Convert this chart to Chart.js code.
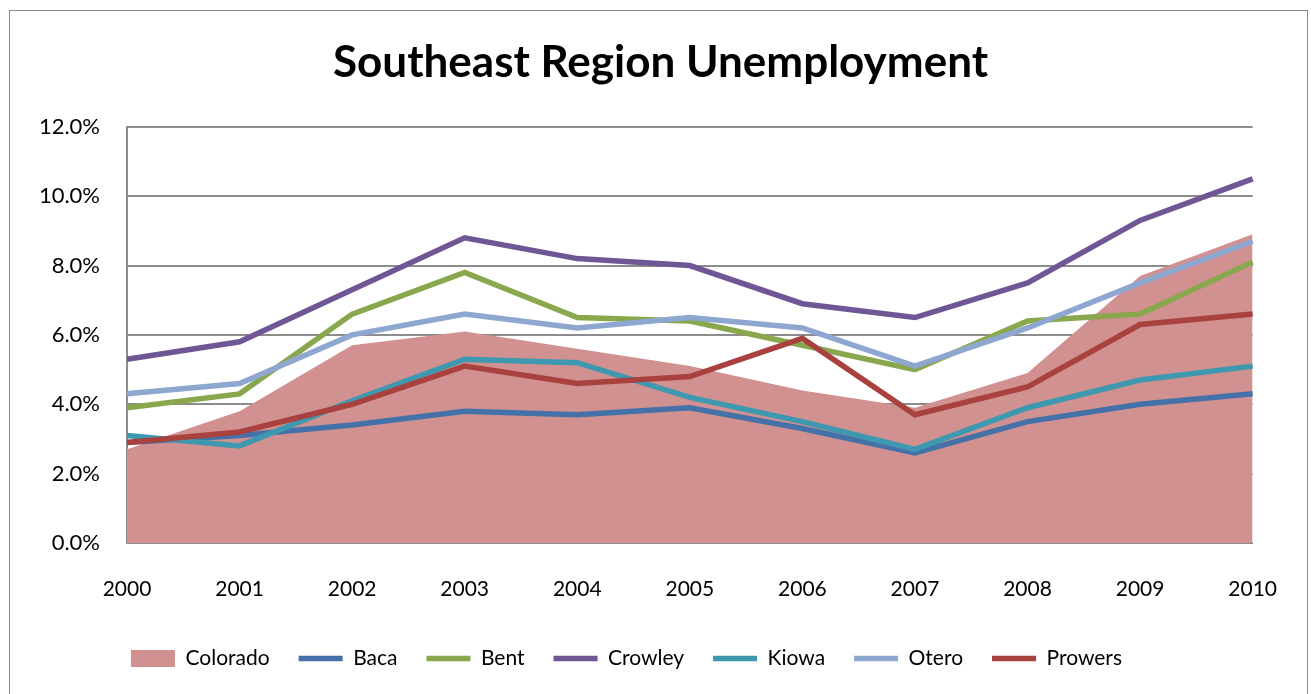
<!DOCTYPE html>
<html>
<head>
<meta charset="utf-8">
<title>Southeast Region Unemployment</title>
<script src="https://cdn.jsdelivr.net/npm/chart.js@4.4.1/dist/chart.umd.min.js"></script>
<style>
  html, body { margin: 0; padding: 0; background: #fff; }
  #wrap { width: 1311px; height: 694px; }
</style>
</head>
<body>
<div id="wrap"><canvas id="unempChart" width="1311" height="694"></canvas></div>
<script>
// datos (porcentaje)
const years = ['2000', '2001', '2002', '2003', '2004', '2005', '2006', '2007', '2008', '2009', '2010'];
const colorado = [2.7, 3.8, 5.7, 6.1, 5.6, 5.1, 4.4, 3.9, 4.9, 7.7, 8.9];
const baca     = [2.9, 3.1, 3.4, 3.8, 3.7, 3.9, 3.3, 2.6, 3.5, 4.0, 4.3];
const bent     = [3.9, 4.3, 6.6, 7.8, 6.5, 6.4, 5.7, 5.0, 6.4, 6.6, 8.1];
const crowley  = [5.3, 5.8, 7.3, 8.8, 8.2, 8.0, 6.9, 6.5, 7.5, 9.3, 10.5];
const kiowa    = [3.1, 2.8, 4.1, 5.3, 5.2, 4.2, 3.5, 2.7, 3.9, 4.7, 5.1];
const otero    = [4.3, 4.6, 6.0, 6.6, 6.2, 6.5, 6.2, 5.1, 6.2, 7.5, 8.7];
const prowers  = [2.9, 3.2, 4.0, 5.1, 4.6, 4.8, 5.9, 3.7, 4.5, 6.3, 6.6];
const yTicks = [0, 2, 4, 6, 8, 10, 12];

const FONT = 'Lato, "Open Sans", sans-serif';

// marco exterior del grafico
const frameBorder = {
    id: 'frameBorder',
    beforeDraw(chart) {
        const c = chart.ctx;
        c.save();
        c.fillStyle = '#fff';
        c.fillRect(0, 0, chart.width, chart.height);
        c.strokeStyle = '#8c8c8c';
        c.lineWidth = 1;
        c.strokeRect(9.5, 10.5, 1298, 700);
        c.restore();
    }
};

// titulo un poco a la derecha, leyenda un poco a la izquierda (como el original)
const blockShift = {
    id: 'blockShift',
    afterLayout(chart) {
        if (chart.legend) {
            chart.legend.left -= 18;
            chart.legend.right -= 18;
        }
        if (chart.titleBlock) {
            chart.titleBlock.left += 16;
            chart.titleBlock.right += 16;
        }
    }
};

function lineSet(label, data, color, order) {
    return {
        label: label,
        data: data,
        borderColor: color,
        backgroundColor: color,
        borderWidth: 5.5,
        pointRadius: 0,
        pointStyle: 'line',
        tension: 0,
        fill: false,
        order: order
    };
}

new Chart(document.getElementById('unempChart'), {
    type: 'line',
    data: {
        labels: years,
        datasets: [
            {
                label: 'Colorado',
                data: colorado,
                backgroundColor: '#d19190',
                borderColor: '#d19190',
                borderWidth: 0,
                pointRadius: 0,
                pointStyle: 'rect',
                fill: 'origin',
                tension: 0,
                order: 10
            },
            lineSet('Baca', baca, '#4571a9', 6),
            lineSet('Bent', bent, '#89a84d', 5),
            lineSet('Crowley', crowley, '#6f5796', 4),
            lineSet('Kiowa', kiowa, '#3d98b0', 3),
            lineSet('Otero', otero, '#8ea7d0', 2),
            lineSet('Prowers', prowers, '#a9423f', 1)
        ]
    },
    options: {
        responsive: false,
        animation: false,
        layout: { padding: { left: 36, right: 58, top: 0, bottom: 15 } },
        plugins: {
            title: {
                display: true,
                text: 'Southeast Region Unemployment',
                color: '#000',
                font: { family: FONT, size: 44, weight: 'bold' },
                padding: { top: 36, bottom: 38 }
            },
            legend: {
                position: 'bottom',
                labels: {
                    usePointStyle: true,
                    pointStyleWidth: 44,
                    boxHeight: 17,
                    padding: 29,
                    color: '#000',
                    font: { family: FONT, size: 21 },
                    sort: (a, b) => a.datasetIndex - b.datasetIndex
                }
            },
            tooltip: { enabled: false }
        },
        scales: {
            x: {
                offset: false,
                grid: { display: false, drawTicks: false },
                border: { display: true, color: '#8c8c8c', width: 2 },
                ticks: { color: '#000', padding: 34, font: { family: FONT, size: 21 }, maxRotation: 0 },
                afterFit: (scale) => { scale.height = 76; }
            },
            y: {
                min: 0,
                max: 12,
                afterBuildTicks: (scale) => { scale.ticks = yTicks.map(v => ({ value: v })); },
                grid: { color: '#8c8c8c', lineWidth: 2, drawTicks: false },
                border: { display: true, color: '#8c8c8c', width: 2 },
                ticks: {
                    color: '#000',
                    padding: 27,
                    font: { family: FONT, size: 22 },
                    callback: (v) => Number(v).toFixed(1) + '%'
                },
                afterFit: (scale) => { scale.width = 91; }
            }
        }
    },
    plugins: [frameBorder, blockShift]
});
</script>
</body>
</html>
